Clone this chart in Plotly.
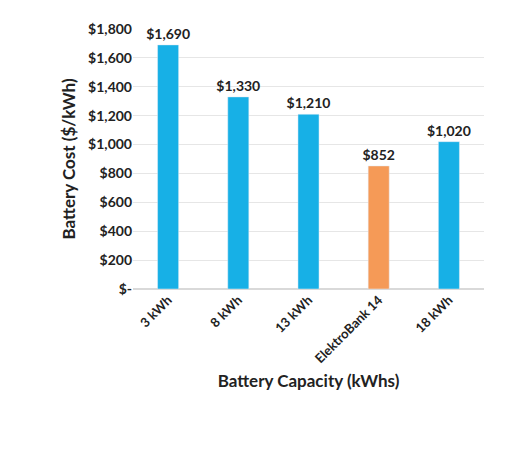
import plotly.graph_objects as go

categories = ["3 kWh", "8 kWh", "13 kWh", "ElektroBank 14", "18 kWh"]
costs = [1690, 1330, 1210, 852, 1020]
bar_colors = ["#17B0E6", "#17B0E6", "#17B0E6", "#F59A57", "#17B0E6"]
tick_vals = list(range(0, 2000, 200))
tick_text = ["$-"] + ["${:,}".format(v) for v in tick_vals[1:]]

fig = go.Figure()
fig.add_trace(go.Bar(
    x=categories, y=costs,
    marker_color=bar_colors,
    width=0.3,
    text=["<b>${:,}</b>".format(v) for v in costs],
    textposition="outside",
    textfont=dict(size=14, color="#222"),
    cliponaxis=False,
))

fig.update_layout(
    width=506, height=451,
    margin=dict(l=125, r=30, t=21, b=170),
    plot_bgcolor="white", paper_bgcolor="white",
    font=dict(family="Lato", size=14, color="#222"),
    showlegend=False,
    uniformtext=dict(minsize=14, mode="show"),
    xaxis=dict(tickangle=-45, automargin=False,
               title=dict(text="<b>Battery Capacity (kWhs)</b>", standoff=10),
               tickvals=categories, ticktext=["<b>%s</b>" % c for c in categories],
               tickfont=dict(size=13), showline=False),
    yaxis=dict(range=[0, 1800], automargin=False, tickvals=tick_vals,
               ticktext=["<b>%s</b>" % t for t in tick_text],
               tickfont=dict(size=14),
               gridcolor="#E6E6E6", zeroline=True, zerolinecolor="#D9D9D9",
               title=dict(text="<b>Battery Cost ($/kWh)</b>", standoff=8)),
)

fig.write_html("out.html")
